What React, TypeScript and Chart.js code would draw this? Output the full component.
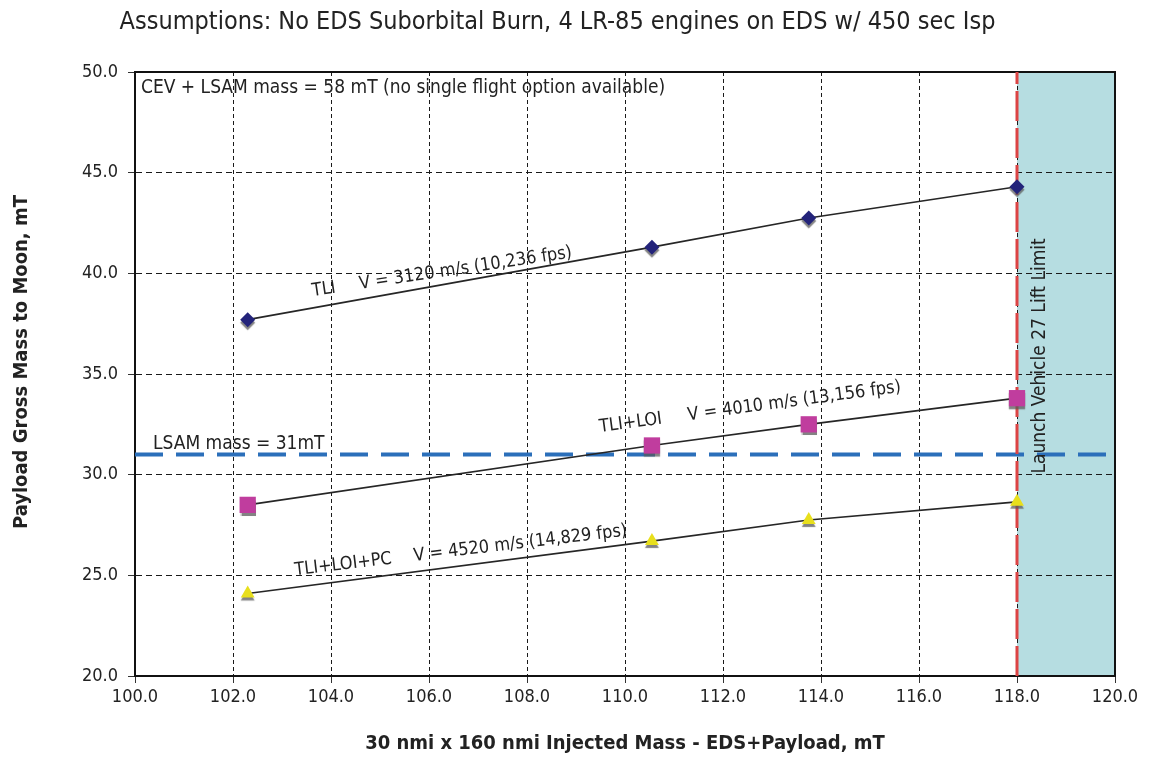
import React, { useEffect, useRef } from 'react';
import { Chart, registerables } from 'chart.js';

Chart.register(...registerables);

// ---------- data ----------
const injectedMass = [102.3, 110.55, 113.75, 118.0];
const tliPayload = [37.7, 41.3, 42.75, 44.3];
const tliLoiPayload = [28.5, 31.45, 32.5, 33.8];
const tliLoiPcPayload = [24.1, 26.7, 27.75, 28.65];

const seriesNames = ['TLI', 'TLI+LOI', 'TLI+LOI+PC'];
const velocityLabels = [
  'V = 3120 m/s (10,236 fps)',
  'V = 4010 m/s (13,156 fps)',
  'V = 4520 m/s (14,829 fps)',
];

const lsamMass = 31;
const liftLimit = 118;

const xTickLabels = ['100.0', '102.0', '104.0', '106.0', '108.0', '110.0', '112.0', '114.0', '116.0', '118.0', '120.0'];
const yTickLabels = ['20.0', '25.0', '30.0', '35.0', '40.0', '45.0', '50.0'];

const titleText = 'Assumptions: No EDS Suborbital Burn, 4 LR-85 engines on EDS w/ 450 sec Isp';
const xTitle = '30 nmi x 160 nmi Injected Mass - EDS+Payload, mT';
const yTitle = 'Payload Gross Mass to Moon, mT';
const cevNote = 'CEV + LSAM mass = 58 mT (no single flight option available)';
const lsamNote = 'LSAM mass = 31mT';
const limitNote = 'Launch Vehicle 27 Lift Limit';

// ---------- styling / layout ----------
const FONT = "'Liberation Sans Narrow', 'Arial Narrow', 'DejaVu Sans Condensed', sans-serif";
const TEXT = '#222';
const labelAnchors = [
  { x: 103.63, y: 38.87, angle: -8.5, gap: 24 },
  { x: 109.49, y: 32.12, angle: -7.6, gap: 26 },
  { x: 103.27, y: 25.01, angle: -6.8, gap: 22 },
];

const pts = (ys: number[]) => injectedMass.map((x, i) => ({ x, y: ys[i] }));

const decorPlugin = {
  id: 'decor',
  beforeDraw(chart: any) {
    const { ctx, chartArea: a, scales } = chart;
    const xl = scales.x.getPixelForValue(liftLimit);
    ctx.save();
    ctx.fillStyle = '#b6dde1';
    ctx.fillRect(xl, a.top, a.right - xl, a.bottom - a.top);
    ctx.restore();
  },
  beforeDatasetsDraw(chart: any) {
    const { ctx, chartArea: a } = chart;
    ctx.save();
    ctx.strokeStyle = '#111';
    ctx.lineWidth = 2;
    ctx.strokeRect(a.left, a.top, a.right - a.left, a.bottom - a.top);
    ctx.restore();
  },
  beforeDatasetDraw(chart: any, args: any) {
    const ds = chart.data.datasets[args.index];
    if (ds.shadow) {
      const ctx = chart.ctx;
      ctx.save();
      ctx.shadowColor = 'rgba(90,90,90,0.75)';
      ctx.shadowOffsetY = 3;
      ctx.shadowOffsetX = 0;
      ctx.shadowBlur = 1;
    }
  },
  afterDatasetDraw(chart: any, args: any) {
    const ds = chart.data.datasets[args.index];
    if (ds.shadow) chart.ctx.restore();
  },
  afterDatasetsDraw(chart: any) {
    const { ctx, chartArea: a, scales } = chart;
    const { x, y } = scales;
    ctx.save();
    ctx.fillStyle = TEXT;
    ctx.textBaseline = 'alphabetic';
    ctx.textAlign = 'left';
    // series labels along the lines
    ctx.font = `18px ${FONT}`;
    labelAnchors.forEach((p, i) => {
      ctx.save();
      ctx.translate(x.getPixelForValue(p.x), y.getPixelForValue(p.y));
      ctx.rotate((p.angle * Math.PI) / 180);
      ctx.fillText(seriesNames[i], 0, 0);
      const w = ctx.measureText(seriesNames[i]).width;
      ctx.fillText(velocityLabels[i], w + p.gap, 0);
      ctx.restore();
    });
    // top-left note
    ctx.font = `19px ${FONT}`;
    ctx.textBaseline = 'middle';
    ctx.fillText(cevNote, a.left + 6, a.top + 16);
    // LSAM note
    ctx.textBaseline = 'alphabetic';
    ctx.fillText(lsamNote, a.left + 18, y.getPixelForValue(lsamMass) - 6);
    // lift limit note
    ctx.save();
    ctx.font = `19px ${FONT}`;
    ctx.translate(x.getPixelForValue(liftLimit) + 23, y.getPixelForValue(35.9));
    ctx.rotate(-Math.PI / 2);
    ctx.textAlign = 'center';
    ctx.textBaseline = 'middle';
    ctx.fillText(limitNote, 0, 0);
    ctx.restore();
    ctx.restore();
  },
  afterDraw(chart: any) {
    // y-axis title
    const ctx = chart.ctx;
    ctx.save();
    ctx.fillStyle = TEXT;
    ctx.font = `bold 20px ${FONT}`;
    ctx.translate(22, 362);
    ctx.rotate(-Math.PI / 2);
    ctx.textAlign = 'center';
    ctx.textBaseline = 'middle';
    ctx.fillText(yTitle, 0, 0);
    ctx.restore();
  },
};

export default function App() {
  const ref = useRef<HTMLCanvasElement | null>(null);

  useEffect(() => {
    if (!ref.current) return;
    const markerBase = { type: 'scatter', showLine: false, shadow: true, pointBorderWidth: 0, clip: false } as any;
    const lineBase = {
      type: 'line',
      borderColor: '#262626',
      borderWidth: 1.6,
      pointRadius: 0,
      fill: false,
      tension: 0,
    } as any;
    const gridOpts = { color: '#1a1a1a', lineWidth: 1, drawTicks: true, tickLength: 7, tickColor: '#333', tickWidth: 1 };
    const chart = new Chart(ref.current, {
      type: 'scatter',
      data: {
        datasets: [
          { ...markerBase, order: 1, data: pts(tliPayload), pointStyle: 'rectRot', pointRadius: 7.5, pointBackgroundColor: '#23237a' },
          { ...markerBase, order: 1, data: pts(tliLoiPayload), pointStyle: 'rect', pointRadius: 11.5, pointBackgroundColor: '#c03d9e' },
          { ...markerBase, order: 1, data: pts(tliLoiPcPayload), pointStyle: 'triangle', pointRadius: 8, pointBackgroundColor: '#e8df1c' },
          { ...lineBase, order: 2, data: pts(tliPayload) },
          { ...lineBase, order: 2, data: pts(tliLoiPayload) },
          { ...lineBase, order: 2, data: pts(tliLoiPcPayload) },
          {
            ...lineBase,
            order: 3,
            data: [{ x: liftLimit, y: 20 }, { x: liftLimit, y: 50 }],
            borderColor: '#dc4444',
            borderWidth: 3,
            borderDash: [30, 7],
          },
          {
            ...lineBase,
            order: 4,
            data: [{ x: 100, y: lsamMass }, { x: 120, y: lsamMass }],
            borderColor: '#2b6fba',
            borderWidth: 4,
            borderDash: [28, 13],
          },
        ],
      },
      options: {
        animation: false,
        responsive: false,
        maintainAspectRatio: false,
        layout: { padding: { left: 0, right: 51, top: 0, bottom: 0 } },
        plugins: {
          legend: { display: false },
          tooltip: { enabled: false },
          title: {
            display: true,
            text: titleText,
            color: TEXT,
            font: { family: FONT, size: 25, weight: 'normal', lineHeight: 1.2 },
            padding: { top: 7, bottom: 35 },
          },
        },
        scales: {
          x: {
            type: 'linear',
            min: 100,
            max: 120,
            afterFit: (s: any) => { s.height = 98; },
            ticks: {
              stepSize: 2,
              autoSkip: false,
              maxRotation: 0,
              padding: 4,
              color: TEXT,
              font: { family: FONT, size: 18 },
              callback: (_v: any, i: number) => xTickLabels[i],
            },
            grid: gridOpts,
            border: { display: true, color: '#111', width: 2, dash: [4, 3] },
            title: {
              display: true,
              text: xTitle,
              color: TEXT,
              font: { family: FONT, size: 20, weight: 'bold', lineHeight: 1.2 },
              padding: { top: 0, bottom: 18 },
            },
          },
          y: {
            type: 'linear',
            min: 20,
            max: 50,
            afterFit: (s: any) => { s.width = 135; },
            ticks: {
              stepSize: 5,
              padding: 10,
              color: TEXT,
              font: { family: FONT, size: 18 },
              callback: (_v: any, i: number) => yTickLabels[i],
            },
            grid: gridOpts,
            border: { display: true, color: '#111', width: 2, dash: [6, 4] },
            title: { display: false },
          },
        },
      } as any,
      plugins: [decorPlugin],
    } as any);
    return () => chart.destroy();
  }, []);

  return (
    <div style={{ position: 'fixed', left: 0, top: 0, width: 1166, height: 774, background: '#fff' }}>
      <canvas ref={ref} width={1166} height={774} style={{ display: 'block' }} />
    </div>
  );
}
